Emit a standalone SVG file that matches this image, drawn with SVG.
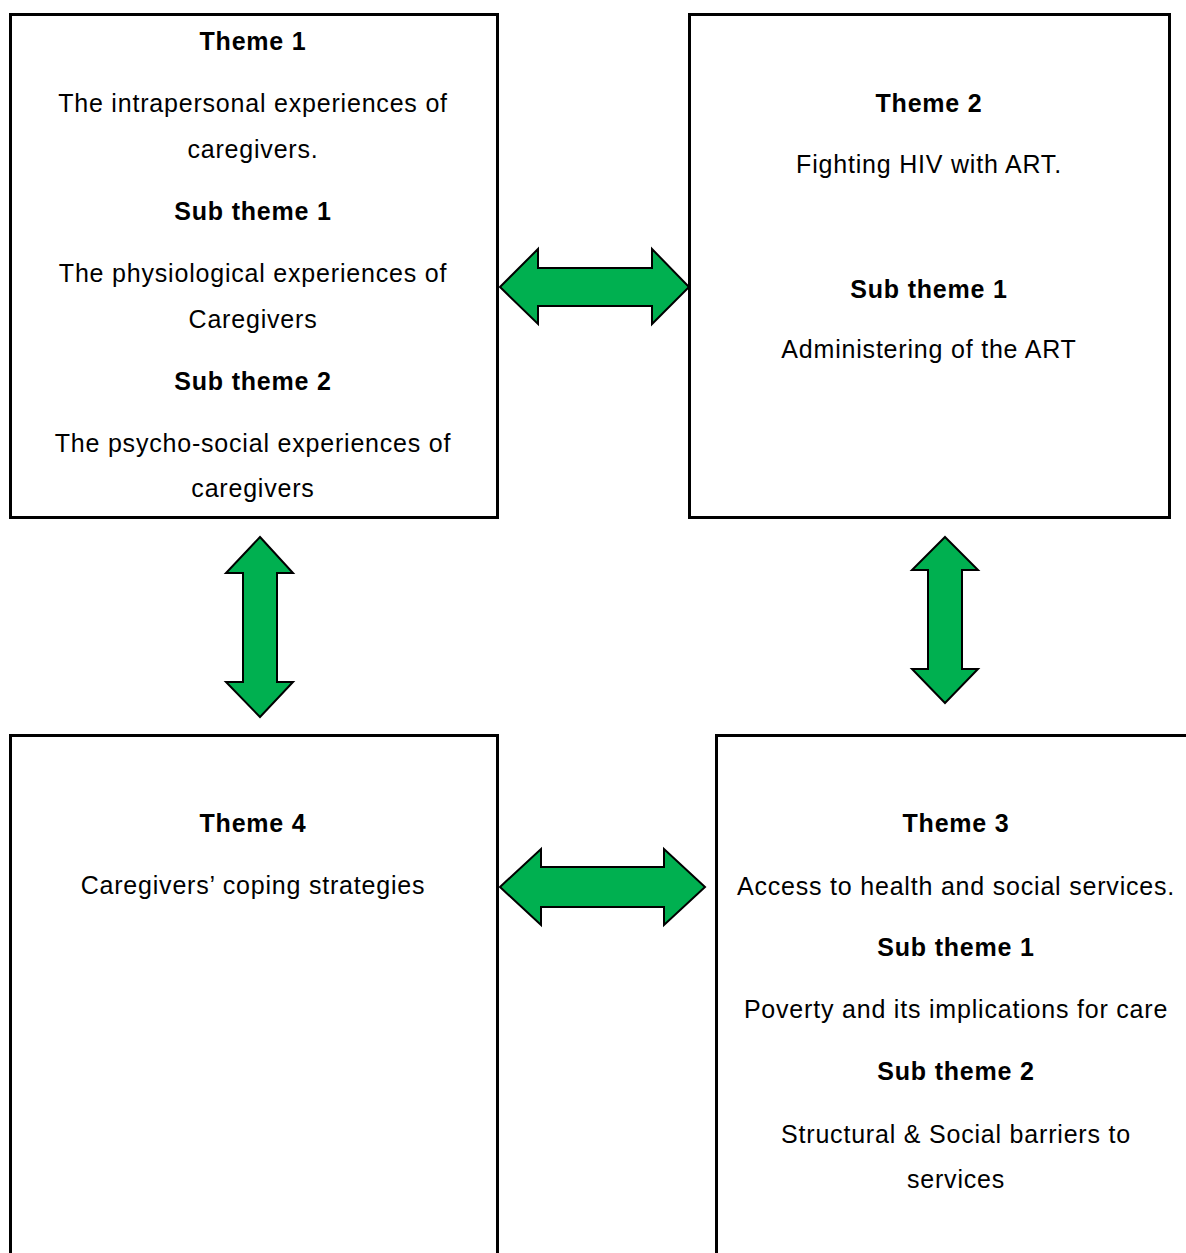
<svg xmlns="http://www.w3.org/2000/svg" width="1186" height="1253" viewBox="0 0 1186 1253">
<style>
.box{fill:#fff;stroke:#000;stroke-width:3}
.t{font-family:"Liberation Sans",Arial,sans-serif;font-size:25px;letter-spacing:0.8px;fill:#000;text-anchor:middle}
.b{font-weight:bold}
.arr{fill:#00B050;stroke:#000;stroke-width:2;stroke-linejoin:miter}
</style>
<rect width="1186" height="1253" fill="#fff"/>
<g id="theme1">
<rect class="box" x="10.5" y="14.5" width="487" height="503"/>
<text class="t b" x="253" y="50">Theme 1</text>
<text class="t" x="253" y="112">The intrapersonal experiences of</text>
<text class="t" x="253" y="158">caregivers.</text>
<text class="t b" x="253" y="220">Sub theme 1</text>
<text class="t" x="253" y="282">The physiological experiences of</text>
<text class="t" x="253" y="328">Caregivers</text>
<text class="t b" x="253" y="390">Sub theme 2</text>
<text class="t" x="253" y="452">The psycho-social experiences of</text>
<text class="t" x="253" y="497">caregivers</text>
</g>
<g id="theme2">
<rect class="box" x="689.5" y="14.5" width="480" height="503"/>
<text class="t b" x="929" y="112">Theme 2</text>
<text class="t" x="929" y="173">Fighting HIV with ART.</text>
<text class="t b" x="929" y="298">Sub theme 1</text>
<text class="t" x="929" y="358">Administering of the ART</text>
</g>
<g id="theme4">
<rect class="box" x="10.5" y="735.5" width="487" height="530"/>
<text class="t b" x="253" y="832">Theme 4</text>
<text class="t" x="253" y="894">Caregivers’ coping strategies</text>
</g>
<g id="theme3">
<rect class="box" x="716.5" y="735.5" width="490" height="530"/>
<text class="t b" x="956" y="832">Theme 3</text>
<text class="t" x="956" y="895">Access to health and social services.</text>
<text class="t b" x="956" y="956">Sub theme 1</text>
<text class="t" x="956" y="1018">Poverty and its implications for care</text>
<text class="t b" x="956" y="1080">Sub theme 2</text>
<text class="t" x="956" y="1143">Structural &amp; Social barriers to</text>
<text class="t" x="956" y="1188">services</text>
</g>
<g id="connectors">
<polygon class="arr" points="500,287 538,249 538,268 652,268 652,249 689,287 652,324 652,306 538,306 538,324"/>
<polygon class="arr" points="260,537 293,573 277,573 277,682 293,682 260,717 226,682 243,682 243,573 226,573"/>
<polygon class="arr" points="500,887 541,849 541,867 664,867 664,849 705,887 664,925 664,907 541,907 541,925"/>
<polygon class="arr" points="945,537 978,570 962,570 962,669 978,669 945,703 912,669 928,669 928,570 912,570"/>
</g>
</svg>
